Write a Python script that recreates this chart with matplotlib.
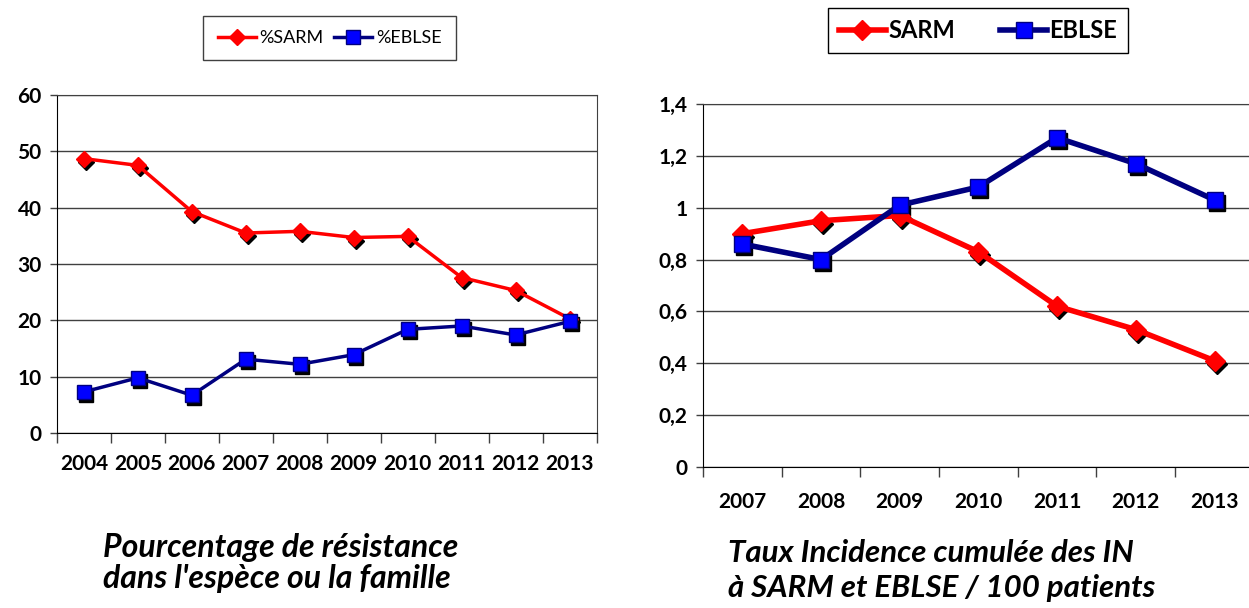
import matplotlib
matplotlib.use("Agg")
import matplotlib.pyplot as plt
from matplotlib.transforms import offset_copy

plt.rcParams['font.family'] = ['Lato', 'DejaVu Sans']

# pourcentage de résistance
years_pct = ['2004', '2005', '2006', '2007', '2008', '2009', '2010', '2011', '2012', '2013']
pct_sarm = [48.7, 47.5, 39.3, 35.5, 35.8, 34.7, 34.9, 27.6, 25.3, 20.3]
pct_eblse = [7.3, 9.8, 6.7, 13.1, 12.2, 13.9, 18.4, 19.0, 17.4, 19.8]

# taux d'incidence / 100 patients
years_inc = ['2007', '2008', '2009', '2010', '2011', '2012', '2013']
inc_sarm = [0.90, 0.95, 0.97, 0.83, 0.62, 0.53, 0.41]
inc_eblse = [0.86, 0.80, 1.01, 1.08, 1.27, 1.17, 1.03]

RED = '#ff0000'
NAVY = '#000080'
BLUE = '#0000ff'

fig = plt.figure(figsize=(12.49, 6.08), dpi=100)


def draw_series(ax, x, y, color, marker, ms, lw, label, mfc, mec):
    shadow = offset_copy(ax.transData, fig=fig, x=2, y=-3, units='dots')
    ax.plot(x, y, linestyle='none', marker=marker, ms=ms, color='black',
            transform=shadow, zorder=3)
    return ax.plot(x, y, color=color, lw=lw, marker=marker, ms=ms,
                   mfc=mfc, mec=mec, zorder=4, label=label)[0]


def style_axes(ax, n, ymax, step, fmt):
    ax.set_xlim(-0.5, n - 0.5)
    ax.set_ylim(0, ymax)
    nt = int(round(ymax / step)) + 1
    ax.set_yticks([i * step for i in range(nt)])
    ax.set_yticklabels([fmt(i * step) for i in range(nt)])
    ax.set_xticks([i - 0.5 for i in range(n + 1)])
    ax.set_xticklabels([])
    ax.tick_params(axis='x', length=7, width=1, direction='out', color='#404040')
    ax.tick_params(axis='y', length=5, width=1, direction='out', color='#404040',
                   labelsize=15, pad=6)
    for lbl in ax.get_yticklabels():
        lbl.set_fontweight('bold')
    ax.grid(axis='y', color='#404040', lw=1)
    ax.set_axisbelow(True)
    for s in ax.spines.values():
        s.set_color('#404040')
    ax.spines['left'].set_color('black')
    ax.spines['bottom'].set_color('black')


# graphique de gauche
ax1 = fig.add_axes([0.0456, 0.2878, 0.432, 0.556])
x1 = range(len(years_pct))
h1 = draw_series(ax1, x1, pct_sarm, RED, 'D', 8, 2.5, '%SARM', RED, RED)
h2 = draw_series(ax1, x1, pct_eblse, NAVY, 's', 10, 2.5, '%EBLSE', BLUE, NAVY)
style_axes(ax1, len(years_pct), 60, 10, lambda v: f'{v:g}')
for i, yr in enumerate(years_pct):
    ax1.text(i, -5.5, yr, ha='center', va='center', fontsize=15, fontweight='bold')
fig.legend(handles=[h1, h2], loc='center', bbox_to_anchor=(0.264, 0.9375), ncol=2,
           fancybox=False, edgecolor='#404040', fontsize=13, handlelength=2.1,
           columnspacing=0.6, handletextpad=0.2, borderpad=0.8, framealpha=1)

# graphique de droite
ax2 = fig.add_axes([0.5629, 0.2319, 0.441, 0.597])
x2 = range(len(years_inc))
h3 = draw_series(ax2, x2, inc_sarm, RED, 'D', 10, 4, 'SARM', RED, RED)
h4 = draw_series(ax2, x2, inc_eblse, NAVY, 's', 12, 4, 'EBLSE', BLUE, NAVY)
style_axes(ax2, len(years_inc), 1.4, 0.2, lambda v: f'{v:g}'.replace('.', ','))
for i, yr in enumerate(years_inc):
    ax2.text(i, -0.135, yr, ha='center', va='center', fontsize=15, fontweight='bold')
fig.legend(handles=[h3, h4], loc='center', bbox_to_anchor=(0.783, 0.95), ncol=2,
           fancybox=False, edgecolor='black', handlelength=2.0,
           columnspacing=1.9, handletextpad=0.1, borderpad=0.45, framealpha=1,
           prop={'weight': 'bold', 'size': 17})

fig.text(0.0825, 0.074, "Pourcentage de résistance\ndans l'espèce ou la famille",
         ha='left', va='center', fontsize=23, fontweight='bold', style='italic',
         linespacing=1.1)
fig.text(0.583, 0.061, "Taux Incidence cumulée des IN\nà SARM et EBLSE / 100 patients",
         ha='left', va='center', fontsize=22.5, fontweight='bold', style='italic',
         linespacing=1.3)

fig.savefig('out.png', dpi=100)
